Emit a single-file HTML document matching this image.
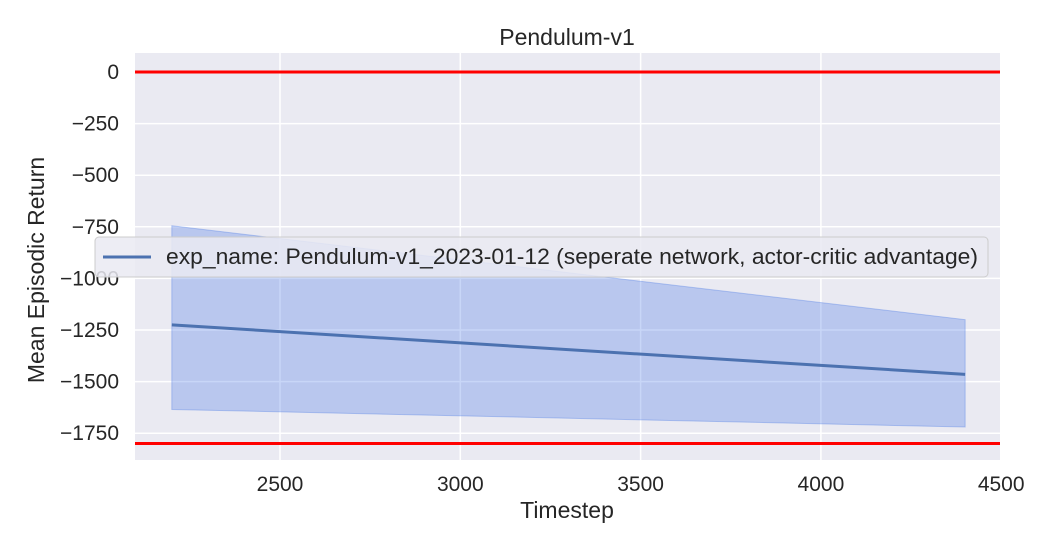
<!DOCTYPE html>
<html><head><meta charset="utf-8"><style>
body{margin:0;background:#fff;width:1050px;height:550px;overflow:hidden;font-family:"Liberation Sans",Arial,sans-serif}
</style></head><body>
<svg id="c" width="1050" height="550" xmlns="http://www.w3.org/2000/svg" font-family="Liberation Sans, Arial, sans-serif"></svg>
<script>
const xs=[2200,4400];
const meanVals=[-1225,-1465];
const upperVals=[-745,-1200];
const lowerVals=[-1635,-1720];
const xTicks=[2500,3000,3500,4000,4500];
const yTicks=[0,-250,-500,-750,-1000,-1250,-1500,-1750];
const hLines=[0,-1800];
const L=135,R=1000,T=53,B=460;
const X=v=>280+(v-2500)*0.3606;
const Y=v=>72-v*0.2064;
const s=document.getElementById('c');
const ns='http://www.w3.org/2000/svg';
function mk(t,a,p){const e=document.createElementNS(ns,t);for(const k in a)e.setAttribute(k,a[k]);(p||s).appendChild(e);return e;}
let e=mk('rect',{x:L,y:T,width:R-L,height:B-T,fill:'#eaeaf2'});


xTicks.forEach(v=>{
 let g=mk('line',{x1:X(v),x2:X(v),y1:T,y2:B,stroke:'#fff','stroke-width':1.5});
 
 
 let t=mk('text',{x:X(v),y:491,'text-anchor':'middle','font-size':21,fill:'#262626'});t.textContent=v;
 
 
});
yTicks.forEach(v=>{
 let g=mk('line',{x1:L,x2:R,y1:Y(v),y2:Y(v),stroke:'#fff','stroke-width':1.5});
 
 
 let t=mk('text',{x:119,y:Y(v)+7,'text-anchor':'end','font-size':21,fill:'#262626'});t.textContent=v===0?'0':'\u2212'+(-v);
 
 
});
let pts=xs.map((x,i)=>X(x)+','+Y(upperVals[i])).concat(xs.map((x,i)=>X(x)+','+Y(lowerVals[i])).reverse()).join(' ');
e=mk('polygon',{points:pts,fill:'#4878e5','fill-opacity':0.3,stroke:'#4878e5','stroke-opacity':0.35});


e=mk('polyline',{points:xs.map((x,i)=>X(x)+','+Y(meanVals[i])).join(' '),fill:'none',stroke:'#4c72b0','stroke-width':3});


hLines.forEach(v=>{
 let l=mk('line',{x1:L,x2:R,y1:Y(v),y2:Y(v),stroke:'#ff0000','stroke-width':3});
 
 
});
let lg=mk('g',{});


mk('rect',{x:95,y:237,width:893,height:40,rx:4,fill:'#eaeaf2','fill-opacity':0.85,stroke:'#cccccc'},lg);
mk('line',{x1:103,x2:151,y1:257,y2:257,stroke:'#4c72b0','stroke-width':3},lg);
e=mk('text',{x:166,y:264,'font-size':22.5,fill:'#262626',textLength:812,lengthAdjust:'spacingAndGlyphs'},lg);
e.textContent='exp_name: Pendulum-v1_2023-01-12 (seperate network, actor-critic advantage)';


e=mk('text',{x:567,y:45,'text-anchor':'middle','font-size':23,fill:'#262626'});e.textContent='Pendulum-v1';


e=mk('text',{x:567,y:518,'text-anchor':'middle','font-size':23,fill:'#262626'});e.textContent='Timestep';


e=mk('text',{x:0,y:0,'text-anchor':'middle','font-size':23,fill:'#262626',transform:'translate(44,270) rotate(-90)'});e.textContent='Mean Episodic Return';


</script>
</body></html>
